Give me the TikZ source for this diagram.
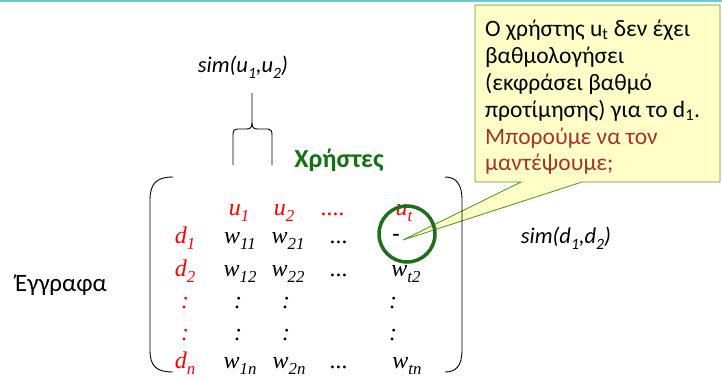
\documentclass[tikz,border=0pt]{standalone}
\usepackage{fontspec}
\setmainfont{Carlito}
\newfontfamily\tnr{Liberation Serif}
\newcommand\sbs[1]{\raisebox{-0.28em}{\scalebox{0.7}{#1}}}
\definecolor{topline}{HTML}{6CC6D3}
\definecolor{callfill}{HTML}{FFFFC8}
\definecolor{calldraw}{HTML}{5A9A2A}
\definecolor{callred}{HTML}{A0342E}
\definecolor{usergreen}{HTML}{167016}
\definecolor{circgreen}{HTML}{1E6E1E}
\tikzset{
  mred/.style={text=red,font=\tnr\itshape\fontsize{24}{24}\selectfont,inner sep=0pt,anchor=base},
  mblk/.style={text=black,font=\tnr\itshape\fontsize{24}{24}\selectfont,inner sep=0pt,anchor=base},
  simlab/.style={font=\itshape\fontsize{22.5}{22.5}\selectfont,inner sep=0pt,anchor=base},
  cline/.style={font=\fontsize{23.5}{23.5}\selectfont,inner sep=0pt,anchor=base west},
  bracket/.style={draw=black,line width=0.9pt},
}
\begin{document}
\begin{tikzpicture}[x=1pt,y=-1pt]
\useasboundingbox (0,0) rectangle (722,378);
\fill[white] (0,0) rectangle (722,378);
\draw[topline,line width=2pt] (0,1) -- (722,1);

% callout
\draw[calldraw,fill=callfill,line width=0.9pt]
  (475,5) -- (720,5) -- (720,182) -- (582,182) -- (403,240) -- (521,182) -- (475,182) -- cycle;
\node[cline] (l1) at (485,36) {Ο χρήστης u\textsubscript{t} δεν έχει};
\node[cline] (l2) at (485,63) {βαθμολογήσει};
\node[cline] (l3) at (485,90) {(εκφράσει βαθμό};
\node[cline] (l4) at (485,117) {προτίμησης) για το d\textsubscript{1}.};
\node[cline,text=callred] (l5) at (485,144) {Μπορούμε να τον};
\node[cline,text=callred] (l6) at (485,170) {μαντέψουμε;};

% sim labels
\node[simlab] (simu) at (243,72) {sim(u\sbs{1},u\sbs{2})};
\node[simlab] (simd) at (566,243) {sim(d\sbs{1},d\sbs{2})};

% brace
\coordinate (bt) at (252,93);
\draw[bracket] (bt) -- (252,123) .. controls (252,128) and (250,129) .. (246,129) -- (238,129)
  .. controls (234,129) and (233,131) .. (233,135) -- (233,165);
\draw[bracket] (252,123) .. controls (252,128) and (254,129) .. (258,129) -- (268,129)
  .. controls (271,129) and (272,131) .. (272,135) -- (272,165);

\node[text=usergreen,font=\bfseries\fontsize{26}{26}\selectfont,inner sep=0pt,anchor=base] (users) at (339,167) {Χρήστες};
\node[font=\fontsize{25}{25}\selectfont,inner sep=0pt,anchor=base] (docs) at (61,291) {Έγγραφα};

% matrix brackets
\draw[bracket] (173,177) .. controls (156,177) and (150,184) .. (150,200) -- (150,350) .. controls (150,366) and (156,372) .. (173,372);
\draw[bracket] (445,177) .. controls (456,177) and (462,184) .. (462,200) -- (462,350) .. controls (462,366) and (456,372) .. (445,372);

% header row
\node[mred] (u1) at (239,215) {u\sbs{1}};
\node[mred] (u2) at (284,215) {u\sbs{2}};
\node[mred] (udots) at (333,215) {....};
\node[mred] (ut) at (404,215) {u\sbs{t}};
% rows
\node[mred] (d1) at (185,243) {d\sbs{1}};
\node[mblk] (w11) at (240,243) {w\sbs{11}};
\node[mblk] (w21) at (288,243) {w\sbs{21}};
\node[mblk] (r1dots) at (339,243) {...};
\node[mblk,font=\tnr\bfseries\fontsize{22}{22}\selectfont] (dash) at (396,240) {-};

\node[mred] (d2) at (185,276) {d\sbs{2}};
\node[mblk] (w12) at (240,276) {w\sbs{12}};
\node[mblk] (w22) at (288,276) {w\sbs{22}};
\node[mblk] (r2dots) at (339,276) {...};
\node[mblk] (wt2) at (406,276) {w\sbs{t2}};

\node[mred] (v1d) at (185,308) {:};
\node[mblk] (v1a) at (238,308) {:};
\node[mblk] (v1b) at (286,308) {:};
\node[mblk] (v1t) at (393,308) {:};
\node[mred] (v2d) at (185,340) {:};
\node[mblk] (v2a) at (238,340) {:};
\node[mblk] (v2b) at (286,340) {:};
\node[mblk] (v2t) at (393,340) {:};

\node[mred] (dn) at (185,368) {d\sbs{n}};
\node[mblk] (w1n) at (240,368) {w\sbs{1n}};
\node[mblk] (w2n) at (289,368) {w\sbs{2n}};
\node[mblk] (rndots) at (339,368) {...};
\node[mblk] (wtn) at (407,368) {w\sbs{tn}};

% circle
\draw[circgreen,line width=3.5pt] (407,234) circle (28);
\end{tikzpicture}
\end{document}
